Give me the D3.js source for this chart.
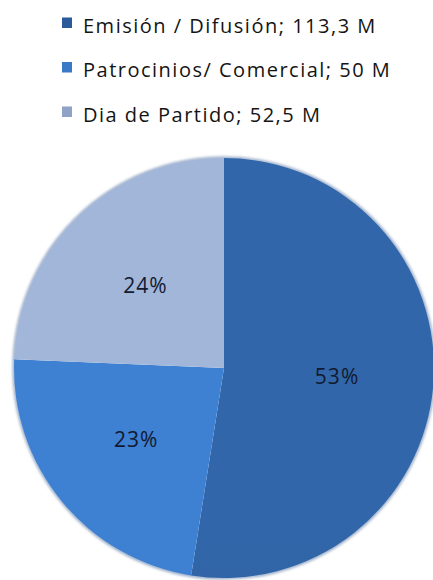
<!DOCTYPE html>
<html>
<head>
<meta charset="utf-8">
<script src="https://cdn.jsdelivr.net/npm/d3@7"></script>
<style>
  html, body { margin: 0; padding: 0; background: #ffffff; }
  svg { display: block; }
  text { font-family: "Open Sans", Lato, sans-serif; }
</style>
</head>
<body>
<svg id="chart" width="433" height="580"></svg>
<script>
// Revenue split (millions)
const categories = ["Emisión / Difusión", "Patrocinios / Comercial", "Dia de Partido"];
const legendLabels = ["Emisión / Difusión; 113,3 M", "Patrocinios/ Comercial; 50 M", "Dia de Partido; 52,5 M"];
const values = [113.3, 50, 52.5];
const percentLabels = ["53%", "23%", "24%"];

// Per-slice vertical gradient stops [offset, colour] and legend swatch colour
const sliceStops = [
  [[0, "#3167aa"], [1, "#28538d"]],
  [[0.45, "#3e80d2"], [1, "#3270be"]],
  [[0, "#a2b6da"], [0.5, "#7f8ead"]]
];
const swatch = ["#2b5a9a", "#3a78c8", "#8fa3c6"];

const svg = d3.select("#chart");
const cx = 224, cy = 368, r = 210;

const defs = svg.append("defs");
categories.forEach((c, i) => {
  const g = defs.append("linearGradient")
    .attr("id", "grad" + i)
    .attr("gradientUnits", "userSpaceOnUse")
    .attr("x1", 0).attr("y1", cy - r).attr("x2", 0).attr("y2", cy + r);
  sliceStops[i].forEach(([o, col]) => {
    g.append("stop").attr("offset", o).attr("stop-color", col);
  });
});
const blur = defs.append("filter").attr("id", "edge").attr("x", "-10%").attr("y", "-10%").attr("width", "120%").attr("height", "120%");
blur.append("feGaussianBlur").attr("stdDeviation", 1.6);

// Legend
const legend = svg.append("g").attr("class", "legend");
const rowY = d3.scalePoint().domain(d3.range(legendLabels.length)).range([23, 112]);
legendLabels.forEach((lab, i) => {
  const y = rowY(i);
  legend.append("rect")
    .attr("x", 62).attr("y", y - 5.5)
    .attr("width", 10).attr("height", 10.5)
    .attr("fill", swatch[i]);
  legend.append("text")
    .attr("x", 83).attr("y", y + 9.5)
    .attr("font-size", 20)
    .attr("letter-spacing", 1.5)
    .attr("fill", "#141414")
    .text(lab);
});

// Pie
const pie = d3.pie().sort(null).value(d => d)(values);
const arc = d3.arc().innerRadius(0).outerRadius(r);
const labelArc = d3.arc().innerRadius(r * 0.54).outerRadius(r * 0.54);

const g = svg.append("g").attr("transform", `translate(${cx},${cy})`);

// soft rim behind the disc
g.append("circle").attr("r", r).attr("fill", "none")
  .attr("stroke", "#7d95b8").attr("stroke-width", 2.5)
  .attr("filter", "url(#edge)");

g.selectAll("path.slice")
  .data(pie)
  .join("path")
  .attr("class", "slice")
  .attr("d", arc)
  .attr("fill", (d, i) => `url(#grad${i})`)
  .attr("stroke", "none");

g.selectAll("text.pct")
  .data(pie)
  .join("text")
  .attr("class", "pct")
  .attr("transform", d => `translate(${labelArc.centroid(d)})`)
  .attr("text-anchor", "middle")
  .attr("dy", "0.35em")
  .attr("font-size", 21)
  .attr("letter-spacing", 1)
  .attr("fill", "#121a30")
  .text((d, i) => percentLabels[i]);
</script>
</body>
</html>
